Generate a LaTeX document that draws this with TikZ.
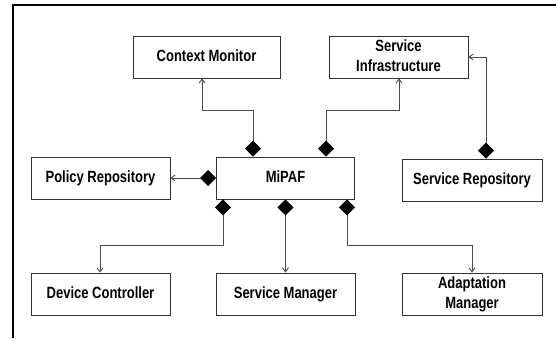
\documentclass[tikz,border=0pt]{standalone}
\usepackage{fontspec}
\setmainfont{Liberation Sans}
\usetikzlibrary{arrows.meta}
% tall two-line labels
\newcommand{\lbl}[1]{\scalebox{1}[1.25]{\begin{tabular}{@{}c@{}}#1\end{tabular}}}
\begin{document}
\begin{tikzpicture}[x=1pt,y=-1pt,
  comp/.style={draw=black!80, line width=0.9pt, fill=white, inner sep=0pt,
    minimum height=42pt, font=\fontsize{13}{16}\selectfont\bfseries},
  assoc/.style={draw=black!70, line width=0.9pt,
    {Diamond[length=16pt,width=16pt,fill=black,color=black]}-{Straight Barb[length=4pt,width=6pt]}}]
\useasboundingbox (0,0) rectangle (556,338);
% outer frame (top and left edges)
\draw[line width=1.1pt] (13,338) -- (13,5) -- (556,5);

% components
\node[comp, minimum width=147pt] (cm) at (206.5,57) {\lbl{Context Monitor}};
\node[comp, minimum width=139pt] (si) at (398.5,57) {\lbl{Service\\Infrastructure}};
\node[comp, minimum width=139pt] (pr) at (100.5,178.5) {\lbl{Policy Repository}};
\node[comp, minimum width=138pt] (mipaf) at (285.5,178) {\lbl{MiPAF}};
\node[comp, minimum width=140pt] (sr) at (472,180) {\lbl{Service Repository}};
\node[comp, minimum width=139pt] (dc) at (100.5,294) {\lbl{Device Controller}};
\node[comp, minimum width=139pt] (sm) at (285.5,294) {\lbl{Service Manager}};
\node[comp, minimum width=140pt] (am) at (472,294) {\lbl{Adaptation\\Manager}};

% associations from MiPAF
\draw[assoc] (mipaf.north -| 253,0) |- (202,110) -- (cm.south -| 202,0);
\draw[assoc] (mipaf.north -| 326,0) |- (399,110) -- (si.south -| 399,0);
\draw[assoc] (sr.north -| 486,0) |- (si.east);
\draw[assoc] (mipaf.west) -- (mipaf.west -| pr.east);
\draw[assoc] (mipaf.south -| 223,0) |- (100,245) -- (dc.north -| 100,0);
\draw[assoc] (mipaf.south) -- (sm.north);
\draw[assoc] (mipaf.south -| 347,0) |- (472,245) -- (am.north);
\end{tikzpicture}
\end{document}
